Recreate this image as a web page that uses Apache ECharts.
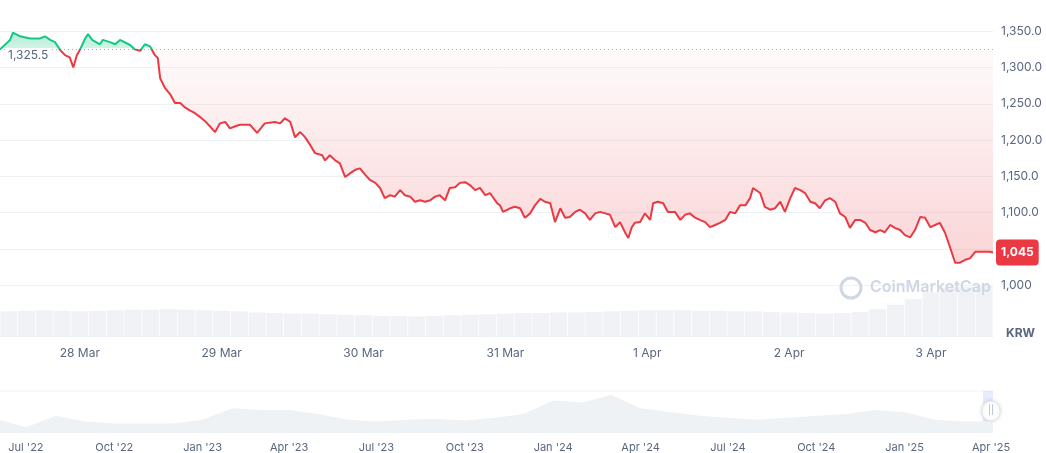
<!DOCTYPE html>
<html>
<head>
<meta charset="utf-8">
<script src="https://cdn.jsdelivr.net/npm/echarts@6/dist/echarts.min.js"></script>
<style>
html, body { margin: 0; padding: 0; background: #fff; }
#main { width: 1046px; height: 453px; }
</style>
</head>
<body>
<div id="main"></div>
<script>
var chart = echarts.init(document.getElementById('main'));

// hours since 27 Mar 10:30 and price in KRW
var hours = [0, 1.7, 2.2, 3.4, 5.1, 6.8, 7.6, 8.5, 9.3, 10.2, 11.0, 11.8, 12.4, 13.0, 13.5, 14.4, 14.9, 15.6, 16.9, 17.4,
  18.6, 19.5, 20.3, 22.0, 22.8, 23.7, 24.5, 25.4, 26.2, 26.7, 27.1, 27.9, 28.8, 29.6, 30.5, 31.3, 32.1, 33.0, 33.8, 34.7,
  35.5, 36.4, 37.2, 38.1, 38.9, 39.8, 40.6, 42.3, 43.5, 44.8, 46.5, 47.4, 48.2, 49.1, 49.9, 50.8, 51.6, 52.5, 53.3, 54.5,
  55.0, 55.8, 56.7, 57.5, 58.4, 59.2, 60.1, 60.9, 61.8, 62.6, 63.5, 64.3, 65.1, 66.0, 66.8, 67.7, 68.5, 69.4, 70.2, 71.1,
  71.9, 72.8, 73.6, 74.4, 75.3, 76.1, 77.0, 77.8, 78.7, 79.5, 80.4, 81.2, 82.1, 82.9, 84.1, 84.6, 85.1, 86.3, 87.1, 88.0,
  88.8, 89.7, 90.5, 91.4, 92.2, 93.1, 93.9, 94.8, 95.6, 96.4, 97.3, 98.1, 99.0, 99.8, 100.7, 101.5, 102.4, 103.2, 104.1, 104.9,
  105.8, 106.3, 106.9, 107.4, 108.3, 109.1, 110.0, 110.5, 111.3, 112.2, 113.0, 114.2, 115.1, 115.9, 116.7, 117.6, 118.4, 119.3, 120.1, 121.0,
  121.8, 122.7, 123.5, 124.4, 125.2, 126.1, 126.9, 127.4, 128.6, 129.4, 130.3, 131.1, 132.0, 132.8, 133.7, 134.5, 135.4, 136.2, 137.1, 137.9,
  138.7, 139.6, 140.4, 141.3, 142.1, 143.0, 143.8, 144.7, 145.5, 146.4, 147.2, 148.1, 148.9, 149.7, 150.6, 151.4, 152.3, 153.1, 154.0, 154.8,
  155.7, 156.5, 157.4, 158.2, 159.0, 159.9, 160.7, 161.6, 162.4, 163.3, 164.1, 165.0, 165.8, 167.5, 168];
var prices = [1325, 1338, 1348, 1343, 1340, 1340, 1343, 1338, 1335, 1324, 1317, 1314, 1300, 1317, 1324, 1340, 1346, 1338, 1332, 1338,
  1335, 1332, 1338, 1331, 1325, 1323, 1332, 1329, 1317, 1313, 1285, 1272, 1263, 1251, 1251, 1245, 1241, 1237, 1232, 1226,
  1219, 1211, 1223, 1225, 1216, 1219, 1221, 1221, 1210, 1223, 1225, 1223, 1230, 1225, 1204, 1211, 1204, 1193, 1182, 1179,
  1172, 1179, 1172, 1168, 1149, 1154, 1159, 1161, 1152, 1145, 1141, 1134, 1120, 1124, 1122, 1131, 1124, 1122, 1115, 1117,
  1115, 1117, 1122, 1124, 1117, 1134, 1135, 1141, 1142, 1138, 1131, 1134, 1124, 1127, 1113, 1110, 1101, 1106, 1108, 1106,
  1093, 1099, 1110, 1119, 1115, 1113, 1087, 1106, 1093, 1094, 1101, 1104, 1099, 1090, 1099, 1101, 1099, 1097, 1080, 1087,
  1072, 1065, 1080, 1086, 1087, 1099, 1090, 1113, 1115, 1113, 1101, 1101, 1090, 1097, 1099, 1093, 1090, 1087, 1080, 1083,
  1086, 1090, 1101, 1099, 1110, 1110, 1120, 1134, 1127, 1108, 1104, 1106, 1115, 1101, 1120, 1134, 1131, 1127, 1115, 1113,
  1106, 1117, 1120, 1115, 1099, 1094, 1079, 1090, 1090, 1086, 1076, 1073, 1076, 1073, 1083, 1079, 1076, 1069, 1066, 1076,
  1094, 1093, 1080, 1083, 1086, 1072, 1053, 1031, 1031, 1035, 1037, 1046, 1046, 1046, 1045];
var openPrice = 1325.5;
var lastPrice = 1045;
var gridTicks = [1000, 1050, 1100, 1150, 1200, 1250, 1300, 1350];
var labelTicks = [1000, 1100, 1150, 1200, 1250, 1300, 1350];
var dayTicks = ['2025-03-28', '2025-03-29', '2025-03-30', '2025-03-31', '2025-04-01', '2025-04-02', '2025-04-03'];

// volume, every 3 hours (relative)
var volume = [44, 45, 46, 45, 44, 45, 46, 47, 47, 48, 47, 46, 45, 44, 42, 41, 40, 40, 39, 38,
  37, 36, 36, 35, 36, 37, 38, 39, 40, 41, 41, 42, 42, 43, 44, 45, 46, 46, 46, 45,
  45, 44, 44, 43, 42, 41, 40, 41, 43, 48, 56, 66, 78, 86, 88, 90];

// long range overview, monthly (relative)
var overviewMonths = ['2022-06-04', '2022-07-01', '2022-08-01', '2022-09-01', '2022-10-01', '2022-11-01', '2022-12-01',
  '2023-01-01', '2023-02-01', '2023-03-01', '2023-04-01', '2023-05-01', '2023-06-01', '2023-07-01', '2023-08-01',
  '2023-09-01', '2023-10-01', '2023-11-01', '2023-12-01', '2024-01-01', '2024-02-01', '2024-03-01', '2024-04-01',
  '2024-05-01', '2024-06-01', '2024-07-01', '2024-08-01', '2024-09-01', '2024-10-01', '2024-11-01', '2024-12-01',
  '2025-01-01', '2025-02-01', '2025-03-01', '2025-04-03'];
var overviewValues = [35, 15, 45, 30, 25, 25, 25, 35, 65, 60, 60, 50, 35, 30, 35, 37, 33, 40, 50, 85,
  80, 100, 65, 55, 45, 40, 35, 40, 45, 50, 60, 55, 35, 30, 30];
var overviewTicks = ['2022-07-01', '2022-10-01', '2023-01-01', '2023-04-01', '2023-07-01', '2023-10-01', '2024-01-01',
  '2024-04-01', '2024-07-01', '2024-10-01', '2025-01-01', '2025-04-01'];

function ts(d) { return new Date(d + 'T00:00:00').getTime(); }
var start = new Date('2025-03-27T10:30:00').getTime();
var end = start + 168 * 3600e3;
var priceData = hours.map(function (h, i) { return [start + h * 3600e3, prices[i]]; });
var volData = volume.map(function (v, i) { return [start + (i * 3 + 1.5) * 3600e3, v]; });
var ovData = overviewMonths.map(function (d, i) { return [ts(d), overviewValues[i]]; });

var grey = '#58667e';
var fmtPrice = function (v) {
  if (v === 1000) return '1,000';
  return v.toLocaleString('en-US', { minimumFractionDigits: 1, maximumFractionDigits: 1 });
};
var months = ['Jan', 'Feb', 'Mar', 'Apr', 'May', 'Jun', 'Jul', 'Aug', 'Sep', 'Oct', 'Nov', 'Dec'];

var gridLines = gridTicks.map(function (v) {
  return { yAxis: v, lineStyle: { color: '#eff2f5', type: 'solid', width: 1 }, label: { show: false } };
});
gridLines.push({ yAxis: openPrice, lineStyle: { color: '#a6b0c3', type: [1, 3], width: 1 },
  label: { show: true, position: 'insideStartBottom', formatter: '1,325.5', color: grey, fontSize: 12,
    backgroundColor: '#fff', padding: [1, 2], distance: [6, -1] } });
gridLines.push({ yAxis: lastPrice, lineStyle: { color: 'transparent', width: 1 },
  label: { show: true, position: 'end', formatter: '1,045', color: '#fff', fontWeight: 'bold', fontSize: 12,
    backgroundColor: '#ea3943', borderRadius: 4, padding: [7, 5], distance: 3 } });

// split point of the colours: the opening price sits at y=49 px of a 336 px tall grid
var cut = 49 / 336;

var option = {
  animation: false,
  textStyle: { fontFamily: 'Inter' },
  grid: [
    { left: 0, right: 53, top: 0, height: 336 },
    { left: 0, right: 53, top: 280, height: 56 },
    { left: 0, right: 53, top: 391, height: 42 }
  ],
  xAxis: [{
    type: 'value', gridIndex: 0, min: start, max: end,
    axisLine: { lineStyle: { color: '#eff2f5' } },
    axisTick: { show: false },
    splitLine: { show: false },
    axisLabel: {
      color: grey, fontSize: 12, margin: 11,
      customValues: dayTicks.map(ts),
      formatter: function (v) { var d = new Date(v); return d.getDate() + ' ' + months[d.getMonth()]; }
    }
  }, {
    type: 'value', gridIndex: 1, min: start, max: end, show: false
  }, {
    type: 'value', gridIndex: 2, min: ts('2022-06-04'), max: ts('2025-04-03'),
    axisLine: { show: false },
    axisTick: { show: false },
    splitLine: { show: false },
    axisLabel: {
      color: grey, fontSize: 11, margin: 9,
      customValues: overviewTicks.map(ts),
      formatter: function (v) { var d = new Date(v); return months[d.getMonth()] + " '" + String(d.getFullYear()).slice(2); }
    }
  }],
  yAxis: [{
    type: 'value', gridIndex: 0, position: 'right', min: 930, max: 1393,
    axisLine: { show: false }, axisTick: { show: false }, splitLine: { show: false },
    axisLabel: { color: grey, fontSize: 12, margin: 8, customValues: labelTicks, formatter: fmtPrice }
  }, {
    type: 'value', gridIndex: 1, min: 0, max: 100, show: false
  }, {
    type: 'value', gridIndex: 2, min: 0, max: 110, show: false
  }],
  series: [{
    name: 'price', type: 'line', xAxisIndex: 0, yAxisIndex: 0, data: priceData,
    showSymbol: false, z: 5,
    lineStyle: {
      width: 2,
      color: new echarts.graphic.LinearGradient(0, 0, 0, 336, [
        { offset: 0, color: '#16c784' }, { offset: cut, color: '#16c784' },
        { offset: cut, color: '#ea3943' }, { offset: 1, color: '#ea3943' }
      ], true)
    },
    areaStyle: {
      origin: openPrice,
      opacity: 1,
      color: new echarts.graphic.LinearGradient(0, 30, 0, 290, [
        { offset: 0, color: 'rgba(22,199,132,0.35)' },
        { offset: 0.07, color: 'rgba(22,199,132,0.2)' },
        { offset: 0.071, color: 'rgba(234,57,67,0.02)' },
        { offset: 1, color: 'rgba(234,57,67,0.24)' }
      ], true)
    },
    markLine: { silent: true, symbol: 'none', z: 1, data: gridLines }
  }, {
    name: 'volume', type: 'bar', xAxisIndex: 1, yAxisIndex: 1, data: volData,
    barWidth: 17, itemStyle: { color: '#f0f2f5' }, silent: true, z: 1
  }, {
    name: 'overview', type: 'line', xAxisIndex: 2, yAxisIndex: 2, data: ovData,
    showSymbol: false, lineStyle: { width: 0 }, silent: true,
    areaStyle: { color: '#eff2f5', opacity: 1 }
  }],
  graphic: [
    { type: 'line', shape: { x1: 0, y1: 391, x2: 993, y2: 391 }, style: { stroke: '#eff2f5' } },
    { type: 'rect', shape: { x: 983, y: 391, width: 10, height: 42 }, style: { fill: 'rgba(56,97,251,0.12)' } },
    { type: 'rect', shape: { x: 982, y: 401, width: 18, height: 20, r: 9 },
      style: { fill: '#fff', stroke: '#dfe3ea', shadowBlur: 4, shadowColor: 'rgba(0,0,0,0.15)' } },
    { type: 'text', x: 988, y: 406, style: { text: '||', fill: '#a6b0c3', font: '9px Inter' } },
    { type: 'text', x: 1006, y: 327, style: { text: 'KRW', fill: grey, font: 'bold 12px Inter' } },
    { type: 'circle', z: 10, shape: { cx: 851, cy: 288, r: 10 }, style: { fill: 'none', stroke: '#cfd6e4', lineWidth: 3 } },
    { type: 'text', z: 10, x: 870, y: 279, style: { text: 'CoinMarketCap', fill: '#cfd6e4', font: '600 16px Inter' } }
  ]
};

chart.setOption(option);
</script>
</body>
</html>
